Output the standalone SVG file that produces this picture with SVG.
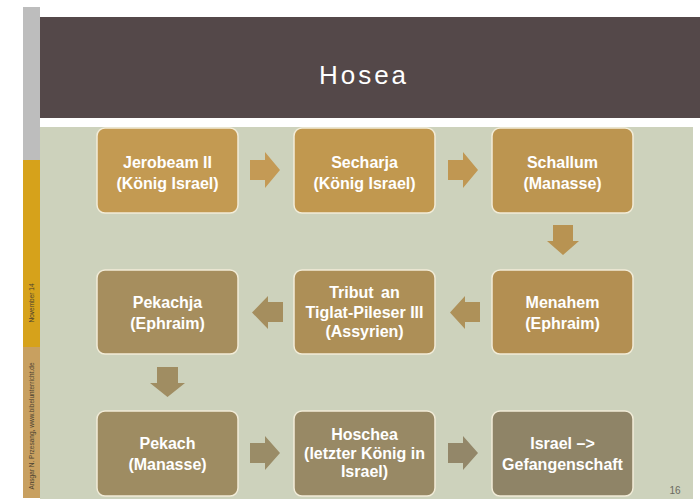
<svg xmlns="http://www.w3.org/2000/svg" width="700" height="504" viewBox="0 0 700 504">
<style>
.box{stroke:#F2ECD8;stroke-width:1.5}
.t{font-family:"Liberation Sans",Arial,sans-serif;font-weight:bold;font-size:16px;fill:#FFFFFF;text-anchor:middle}
.side{font-family:"Liberation Sans",Arial,sans-serif;font-size:6.5px;fill:#4A4030;text-anchor:middle}
</style>
<rect x="0" y="0" width="700" height="504" fill="#FFFFFF"/>
<!-- side strip -->
<rect x="23" y="7" width="17" height="153" fill="#BDBDBD"/>
<rect x="23" y="160" width="17" height="187" fill="#D6A21B"/>
<rect x="23" y="347" width="17" height="151" fill="#C8A060"/>
<text class="side" transform="translate(33.5,303) rotate(-90)">November 14</text>
<text class="side" transform="translate(33.5,426) rotate(-90)">Ansgar N. Przesang, www.bibelunterricht.de</text>
<!-- header -->
<rect x="40" y="17" width="660" height="101" fill="#544849"/>
<text x="364" y="84" font-family="'Liberation Sans',Arial,sans-serif" font-size="26" letter-spacing="3" fill="#FFFFFF" text-anchor="middle">Hosea</text>
<!-- background -->
<rect x="40" y="127" width="653" height="372" fill="#CDD2BC"/>
<text x="675" y="494" font-family="'Liberation Sans',Arial,sans-serif" font-size="10" fill="#6A6A60" text-anchor="middle">16</text>

<g id="connectors">
<polygon points="250,160 265,160 265,152 280,170 265,188 265,180 250,180" fill="#C49A55"/>
<polygon points="448,160 463,160 463,152 478,170 463,188 463,180 448,180" fill="#C09752"/>
<polygon points="553,225 573,225 573,241 579,241 563,255 547,241 553,241" fill="#B89352"/>
<polygon points="480,302 465,302 465,296 450,312.5 465,329 465,322 480,322" fill="#AE9159"/>
<polygon points="283,302 268,302 268,296 252,312.5 268,329 268,322 283,322" fill="#A58E5E"/>
<polygon points="157,367 178,367 178,383 185,383 167.5,397 150,383 157,383" fill="#A08D62"/>
<polygon points="250,443 265,443 265,436 280,453 265,470 265,463 250,463" fill="#9A8C67"/>
<polygon points="448,443 463,443 463,436 478,453 463,470 463,463 448,463" fill="#938769"/>
</g>

<g id="n1"><rect class="box" x="97" y="128" width="141" height="85" rx="8" fill="#C39A52"/>
<text class="t" x="167.5" y="167.5">Jerobeam II</text><text class="t" x="167.5" y="188.5">(König Israel)</text></g>
<g id="n2"><rect class="box" x="294" y="128" width="141" height="85" rx="8" fill="#C1984F"/>
<text class="t" x="364.5" y="167.5">Secharja</text><text class="t" x="364.5" y="188.5">(König Israel)</text></g>
<g id="n3"><rect class="box" x="492" y="128" width="141" height="85" rx="8" fill="#BC9550"/>
<text class="t" x="562.5" y="167.5">Schallum</text><text class="t" x="562.5" y="188.5">(Manasse)</text></g>
<g id="n4"><rect class="box" x="492" y="270" width="141" height="84" rx="8" fill="#B38F52"/>
<text class="t" x="562.5" y="308">Menahem</text><text class="t" x="562.5" y="328.5">(Ephraim)</text></g>
<g id="n5"><rect class="box" x="294" y="270" width="141" height="84" rx="8" fill="#AD8F57"/>
<text class="t" x="364.5" y="298" word-spacing="3">Tribut an</text><text class="t" x="364.5" y="317.5">Tiglat-Pileser III</text><text class="t" x="364.5" y="337">(Assyrien)</text></g>
<g id="n6"><rect class="box" x="97" y="270" width="141" height="84" rx="8" fill="#A68E5E"/>
<text class="t" x="167.5" y="308">Pekachja</text><text class="t" x="167.5" y="328.5">(Ephraim)</text></g>
<g id="n7"><rect class="box" x="97" y="411" width="141" height="85" rx="8" fill="#9E8C62"/>
<text class="t" x="167.5" y="449">Pekach</text><text class="t" x="167.5" y="470">(Manasse)</text></g>
<g id="n8"><rect class="box" x="294" y="411" width="141" height="85" rx="8" fill="#988965"/>
<text class="t" x="364.5" y="440">Hoschea</text><text class="t" x="364.5" y="458.5">(letzter König in</text><text class="t" x="364.5" y="477">Israel)</text></g>
<g id="n9"><rect class="box" x="492" y="411" width="141" height="85" rx="8" fill="#8F8467"/>
<text class="t" x="562.5" y="449">Israel –&gt;</text><text class="t" x="562.5" y="470">Gefangenschaft</text></g>
</svg>
